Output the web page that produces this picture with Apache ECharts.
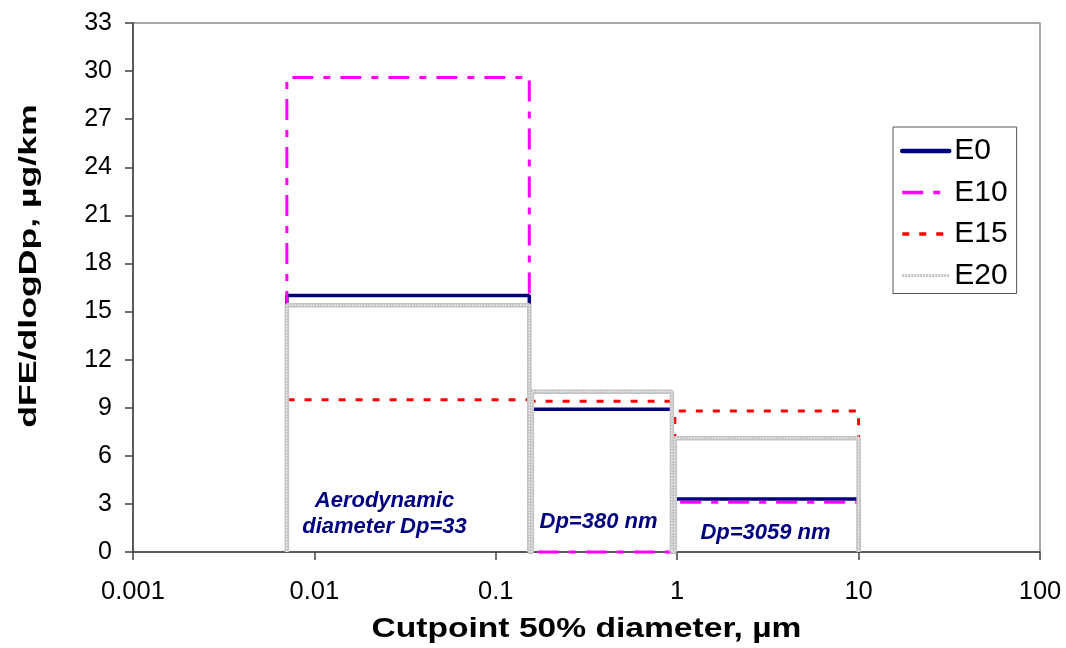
<!DOCTYPE html>
<html>
<head>
<meta charset="utf-8">
<script src="https://cdn.jsdelivr.net/npm/echarts@6/dist/echarts.min.js"></script>
<style>
  html, body { margin: 0; padding: 0; background: #fff; }
  #chart { width: 1066px; height: 648px; }
</style>
</head>
<body>
<div id="chart"></div>
<script>
// Impactor stage cutpoints (µm): lower and upper edge of each size bin
const binLower = [0.00705, 0.158, 0.97];
const binUpper = [0.153, 0.935, 10];

// dFE/dlogDp per size bin (µg/km)
const seriesNames = ['E0', 'E10', 'E15', 'E20'];
const valuesE0  = [16.0, 8.9, 3.3];
const valuesE10 = [29.6, 0.0, 3.1];
const valuesE15 = [9.5, 9.4, 8.8];
const valuesE20 = [15.4, 10.0, 7.1];

// Y axis tick range
const yMin = 0, yMax = 33, yStep = 3;

// Bin mid-point labels
const binLabels = ['Aerodynamic\ndiameter Dp=33', 'Dp=380 nm', 'Dp=3059 nm'];

// Each bin is drawn as an open box: up from 0, across at the bin value, back down to 0
function boxOutline(values) {
  const pts = [];
  for (let i = 0; i < values.length; i++) {
    pts.push([binLower[i], 0]);
    pts.push([binLower[i], values[i]]);
    pts.push([binUpper[i], values[i]]);
    pts.push([binUpper[i], 0]);
  }
  return pts;
}

const FONT = '"Liberation Sans", Arial, Helvetica, sans-serif';
const NAVY = '#000080';
const GREY = '#c4c4c4';

const chart = echarts.init(document.getElementById('chart'), null, { renderer: 'canvas' });

chart.setOption({
  animation: false,
  backgroundColor: '#ffffff',
  grid: {
    left: 133, right: 26, top: 23, bottom: 96,
    show: true, borderColor: '#8c8c8c', borderWidth: 1.5, backgroundColor: 'transparent'
  },
  xAxis: {
    type: 'log', logBase: 10, min: 0.001, max: 100,
    axisLine: { show: true, onZero: false, lineStyle: { color: '#404040', width: 1.5 } },
    axisTick: { show: true, inside: false, length: 8, lineStyle: { color: '#404040', width: 1.5 } },
    minorTick: { show: false },
    splitLine: { show: false },
    axisLabel: {
      margin: 27, fontSize: 25.5, color: '#000', fontFamily: FONT,
      formatter: function (v) { return String(+v.toPrecision(6)); }
    }
  },
  yAxis: {
    type: 'value', min: yMin, max: yMax, interval: yStep,
    axisLine: { show: true, lineStyle: { color: '#404040', width: 1.5 } },
    axisTick: { show: true, inside: false, length: 8, lineStyle: { color: '#404040', width: 1.5 } },
    splitLine: { show: false },
    axisLabel: { margin: 21, fontSize: 25, color: '#000', fontFamily: FONT }
  },
  legend: {
    orient: 'vertical',
    left: 893, top: 127,
    padding: [9, 9, 3, 7],
    itemGap: 11.5,
    itemWidth: 47, itemHeight: 14,
    selectedMode: false,
    borderColor: '#555', borderWidth: 1, backgroundColor: '#fff',
    itemStyle: { opacity: 0 },
    textStyle: { fontSize: 30, color: '#000', fontFamily: FONT, lineHeight: 30 },
    data: [
      { name: 'E0',  lineStyle: { width: 4.5, cap: 'round', opacity: 1 } },
      { name: 'E10', lineStyle: { width: 3.5, opacity: 1 } },
      { name: 'E15', lineStyle: { width: 3.5, opacity: 1 } },
      { name: 'E20', lineStyle: { width: 3, color: GREY, type: [2, 1], opacity: 1 } }
    ]
  },
  series: [
    {
      name: seriesNames[0], type: 'line', data: boxOutline(valuesE0),
      symbol: 'none', clip: false,
      lineStyle: { color: NAVY, width: 3.5 }, itemStyle: { color: NAVY }
    },
    {
      name: seriesNames[1], type: 'line', data: boxOutline(valuesE10),
      symbol: 'none', clip: false,
      lineStyle: { color: '#ff00ff', width: 3, type: [21, 10, 7, 10] }, itemStyle: { color: '#ff00ff' }
    },
    {
      name: seriesNames[2], type: 'line', data: boxOutline(valuesE15),
      symbol: 'none', clip: false,
      lineStyle: { color: '#ff0000', width: 3, type: [7, 10] }, itemStyle: { color: '#ff0000' }
    },
    {
      name: seriesNames[3], type: 'line', data: boxOutline(valuesE20),
      symbol: 'none', clip: false,
      lineStyle: { color: GREY, width: 4.5 }, itemStyle: { color: GREY }
    },
    {
      // fine white speckle running along the E20 outline
      name: 'E20 texture', type: 'line', data: boxOutline(valuesE20),
      symbol: 'none', clip: false, silent: true,
      lineStyle: { color: 'rgba(255,255,255,0.85)', width: 1.2, type: [1.5, 1.5] }
    }
  ],
  graphic: [
    {
      type: 'text', x: 586.5, y: 629.5, scaleX: 1.244,
      style: {
        text: 'Cutpoint 50% diameter, µm', fill: '#000',
        font: 'bold 27px ' + FONT, align: 'center', verticalAlign: 'middle'
      }
    },
    {
      type: 'text', x: 30, y: 266, rotation: Math.PI / 2, scaleX: 1.55,
      style: {
        text: 'dFE/dlogDp, µg/km', fill: '#000',
        font: 'bold 23px ' + FONT, align: 'center', verticalAlign: 'middle'
      }
    },
    {
      type: 'text', x: 384.5, y: 514,
      style: {
        text: binLabels[0], fill: NAVY, lineHeight: 26,
        font: 'italic bold 22px ' + FONT, align: 'center', verticalAlign: 'middle'
      }
    },
    {
      type: 'text', x: 598.5, y: 522,
      style: {
        text: binLabels[1], fill: NAVY,
        font: 'italic bold 22px ' + FONT, align: 'center', verticalAlign: 'middle'
      }
    },
    {
      type: 'text', x: 765.5, y: 533,
      style: {
        text: binLabels[2], fill: NAVY,
        font: 'italic bold 22px ' + FONT, align: 'center', verticalAlign: 'middle'
      }
    }
  ]
});
</script>
</body>
</html>
